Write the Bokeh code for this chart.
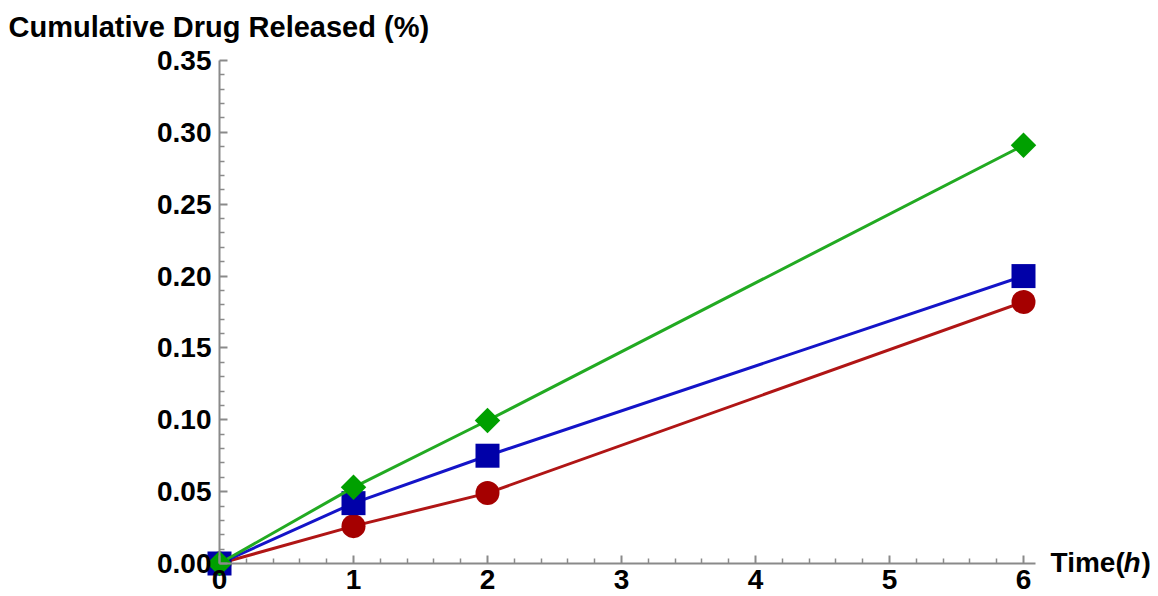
import math
from bokeh.plotting import figure
from bokeh.models import Range1d, Label, FixedTicker, ColumnDataSource
from bokeh.embed import file_html
from bokeh.resources import INLINE

time_h = [0, 1, 2, 6]
red_vals = [0.0, 0.026, 0.049, 0.182]
blue_vals = [0.0, 0.042, 0.075, 0.200]
green_vals = [0.0, 0.053, 0.0995, 0.291]

x_ticks = [0, 1, 2, 3, 4, 5, 6]
y_ticks = [0.0, 0.05, 0.10, 0.15, 0.20, 0.25, 0.30, 0.35]
y_tick_labels = {0.0: "0.00", 0.05: "0.05", 0.1: "0.10", 0.15: "0.15", 0.2: "0.20",
                 0.25: "0.25", 0.3: "0.30", 0.35: "0.35"}

FONT = "Liberation Sans"
FS = "28px"

W, H = 1150, 596
X0, Y0 = 219, 563          # pixel position of the origin in the canvas
SX, SY = 134.0, 1437.1     # pixels per data unit
x_range = Range1d(-X0 / SX, (W - X0) / SX)
y_range = Range1d(-(H - Y0) / SY, Y0 / SY)

p = figure(width=W, height=H, output_backend="svg", toolbar_location=None,
           x_range=x_range, y_range=y_range,
           min_border=0, min_border_left=0, min_border_right=0,
           min_border_top=0, min_border_bottom=0)
p.outline_line_color = None
p.grid.visible = False
p.background_fill_color = "white"
p.border_fill_color = "white"

for ax in (p.xaxis[0], p.yaxis[0]):
    ax.fixed_location = 0
    ax.axis_line_color = "#8a8a8a"
    ax.axis_line_width = 2
    ax.major_tick_line_color = "#8a8a8a"
    ax.minor_tick_line_color = "#8a8a8a"
    ax.major_tick_line_width = 2
    ax.minor_tick_line_width = 1.5
    ax.major_tick_in = 8
    ax.major_tick_out = 0
    ax.minor_tick_in = 5
    ax.minor_tick_out = 0
    ax.major_label_text_font = FONT
    ax.major_label_text_font_size = FS
    ax.major_label_text_font_style = "bold"
    ax.major_label_text_color = "black"

p.xaxis[0].bounds = (0, 6.09)
p.yaxis[0].bounds = (0, 0.35)
p.xaxis[0].ticker = FixedTicker(ticks=x_ticks,
                                minor_ticks=[i * 0.2 for i in range(31) if i % 5 != 0])
p.yaxis[0].ticker = FixedTicker(ticks=y_ticks,
                                minor_ticks=[i * 0.01 for i in range(36) if i % 5 != 0])
p.yaxis[0].major_label_overrides = y_tick_labels
p.xaxis[0].major_label_standoff = 6
p.yaxis[0].major_label_standoff = 8

src_r = ColumnDataSource(dict(x=time_h, y=red_vals))
src_b = ColumnDataSource(dict(x=time_h, y=blue_vals))
src_g = ColumnDataSource(dict(x=time_h, y=green_vals))

p.line("x", "y", source=src_r, line_color="#b01515", line_width=3)
p.scatter("x", "y", source=src_r, marker="circle", size=24, fill_color="#a50000", line_color=None)
p.line("x", "y", source=src_b, line_color="#1414c8", line_width=3)
p.scatter("x", "y", source=src_b, marker="square", size=24, fill_color="#0000a8", line_color=None)
p.line("x", "y", source=src_g, line_color="#22aa22", line_width=3)
p.scatter("x", "y", source=src_g, marker="square", angle=math.pi / 4, size=18,
          fill_color="#00a000", line_color=None)

p.add_layout(Label(x=0, y=0.35, x_offset=-211, y_offset=34, text_baseline="alphabetic",
                   text="Cumulative Drug Released (%)",
                   text_font=FONT, text_font_size="29px", text_font_style="bold", text_color="black"))

# Time(h) label
for txt, dx, style in (("Time(", 15, "bold"), ("h", 88, "bold italic"), (")", 106, "bold")):
    p.add_layout(Label(x=6.09, y=0, x_offset=dx, y_offset=1, text=txt, text_baseline="alphabetic",
                       text_font=FONT, text_font_size=FS, text_font_style=style, text_color="black"))

open("out.html", "w").write(file_html(p, INLINE))
